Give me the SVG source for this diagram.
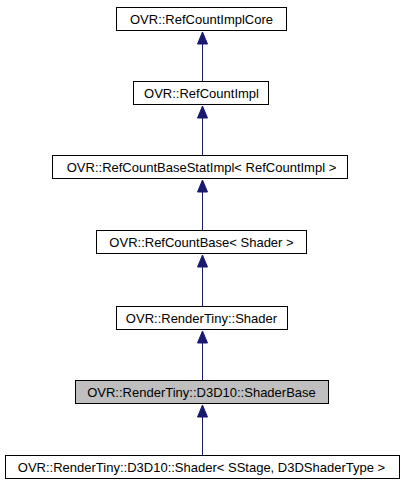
<svg xmlns="http://www.w3.org/2000/svg" width="405" height="485" viewBox="0 0 405 485">
<style>
.box{fill:#ffffff;stroke:#000000;stroke-width:1}
.cur{fill:#bfbfbf;stroke:#000000;stroke-width:1}
.lbl{font-family:"Liberation Sans",Arial,sans-serif;font-size:13px;fill:#000000;text-anchor:middle}
.edge{stroke:#191970;stroke-width:1;fill:none}
.head{fill:#191970;stroke:#191970;stroke-width:1}
</style>
<rect x="0" y="0" width="405" height="485" fill="#ffffff"/>
<g id="connectors">
<line class="edge" x1="202.5" y1="81" x2="202.5" y2="43"/><polygon class="head" points="202.5,32 197.5,44 207.5,44"/>
<line class="edge" x1="202.5" y1="155" x2="202.5" y2="117"/><polygon class="head" points="202.5,106 197.5,118 207.5,118"/>
<line class="edge" x1="202.5" y1="230" x2="202.5" y2="191"/><polygon class="head" points="202.5,180 197.5,192 207.5,192"/>
<line class="edge" x1="202.5" y1="306" x2="202.5" y2="266"/><polygon class="head" points="202.5,255 197.5,267 207.5,267"/>
<line class="edge" x1="202.5" y1="380" x2="202.5" y2="342"/><polygon class="head" points="202.5,331 197.5,343 207.5,343"/>
<line class="edge" x1="202.5" y1="455" x2="202.5" y2="416"/><polygon class="head" points="202.5,405 197.5,417 207.5,417"/>
</g>
<g id="n1"><rect class="box" x="116.5" y="7.5" width="170" height="23"/><text class="lbl" x="201.5" y="24">OVR::RefCountImplCore</text></g>
<g id="n2"><rect class="box" x="133.5" y="81.5" width="135" height="23"/><text class="lbl" x="201.5" y="98">OVR::RefCountImpl</text></g>
<g id="n3"><rect class="box" x="52.5" y="155.5" width="295" height="23"/><text class="lbl" x="201.5" y="172">OVR::RefCountBaseStatImpl&lt; RefCountImpl &gt;</text></g>
<g id="n4"><rect class="box" x="96.5" y="230.5" width="210" height="23"/><text class="lbl" x="201.5" y="247">OVR::RefCountBase&lt; Shader &gt;</text></g>
<g id="n5"><rect class="box" x="116.5" y="306.5" width="171" height="23"/><text class="lbl" x="201.5" y="323">OVR::RenderTiny::Shader</text></g>
<g id="n6"><rect class="cur" x="75.5" y="380.5" width="253" height="23"/><text class="lbl" x="201.5" y="397">OVR::RenderTiny::D3D10::ShaderBase</text></g>
<g id="n7"><rect class="box" x="5.5" y="455.5" width="394" height="23"/><text class="lbl" x="201.5" y="472">OVR::RenderTiny::D3D10::Shader&lt; SStage, D3DShaderType &gt;</text></g>
</svg>
